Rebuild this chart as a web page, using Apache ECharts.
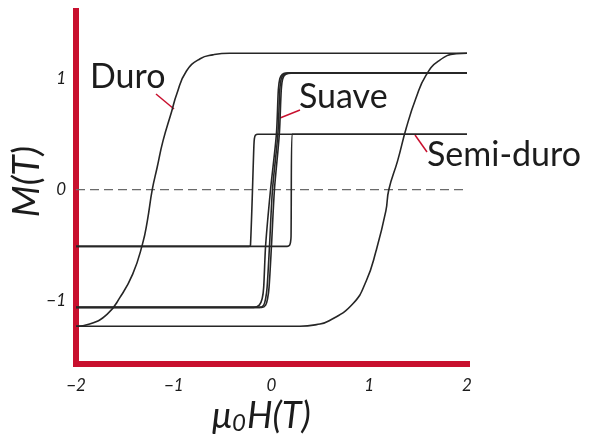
<!DOCTYPE html>
<html><head><meta charset="utf-8">
<script src="https://cdn.jsdelivr.net/npm/echarts@6/dist/echarts.min.js"></script>
<style>html,body{margin:0;padding:0;background:#fff}#c{width:591px;height:445px}</style>
</head><body><div id="c"></div>
<script>
// Tick labels
const xTicks = [-2, -1, 0, 1, 2];
const yTicks = [-1, 0, 1];

// Hard magnet ("Duro") loop, H (T) vs M (T)
const duroDown = [[2.0,1.23],[-0.43,1.23],[-0.6,1.215],[-0.73,1.18],[-0.87,1.07],[-0.97,0.86],[-1.02,0.71],[-1.11,0.44],[-1.17,0.20],[-1.22,0],[-1.27,-0.28],[-1.32,-0.49],[-1.42,-0.76],[-1.55,-0.97],[-1.68,-1.12],[-1.86,-1.21],[-2.0,-1.23]];
const duroUp = [[-2.0,-1.23],[0.29,-1.23],[0.46,-1.215],[0.59,-1.18],[0.83,-1.03],[0.97,-0.82],[1.07,-0.55],[1.17,-0.19],[1.20,0],[1.29,0.26],[1.38,0.56],[1.48,0.83],[1.58,1.03],[1.71,1.16],[1.89,1.225],[2.0,1.23]];

// Soft magnet ("Suave") loop
const suaveDown = [[2.0,1.05],[0.16,1.05],[0.11,1.04],[0.085,1.0],[0.07,0.9],[0.05,0.5],[-0.01,0.0],[-0.06,-0.5],[-0.08,-0.88],[-0.095,-0.98],[-0.125,-1.04],[-0.18,-1.06],[-2.0,-1.06]];
const suaveUp = [[-2.0,-1.06],[-0.1,-1.06],[-0.06,-1.04],[-0.04,-0.98],[-0.025,-0.88],[0.0,-0.5],[0.03,0.0],[0.08,0.5],[0.1,0.9],[0.115,1.0],[0.145,1.04],[0.2,1.05],[2.0,1.05]];
const suaveMid = [[-2.0,-1.06],[-0.12,-1.06],[-0.08,-1.04],[-0.06,-0.98],[-0.045,-0.88],[-0.02,-0.5],[0.01,0.0],[0.065,0.5],[0.085,0.9],[0.1,1.0],[0.13,1.04],[0.18,1.05],[2.0,1.05]];

// Semi-hard ("Semi-duro") loop
const semiDown = [[2.0,0.5],[-0.14,0.5],[-0.165,0.49],[-0.175,0.46],[-0.18,0.4],[-0.215,-0.5],[-0.23,-0.51],[-2.0,-0.51]];
const semiUp = [[-2.0,-0.51],[0.16,-0.51],[0.185,-0.5],[0.195,-0.47],[0.2,-0.42],[0.21,0.5],[2.0,0.5]];

// Zero reference line
const zeroLine = [[-2,0],[2,0]];

const RED = '#c8102e';
const INK = '#1c1c1c';
const CURVE = '#262626';
const fmt = v => String(v).replace('-', '\u2212');

const chart = echarts.init(document.getElementById('c'), null, {renderer:'canvas'});
function loop(data, smooth){
  return {type:'line', data, showSymbol:false, silent:true, smooth:smooth,
          lineStyle:{color:CURVE, width:1.6}, z:3};
}
chart.setOption({
  animation:false,
  grid:{left:76, right:124, top:11, bottom:81},
  xAxis:{type:'value', min:-2, max:2, interval:1,
    axisLine:{onZero:false, lineStyle:{color:RED, width:6, cap:'square'}},
    axisTick:{show:false}, splitLine:{show:false},
    axisLabel:{customValues:xTicks, formatter:fmt, margin:13, color:INK, fontSize:17, fontStyle:'italic', fontFamily:'Lato'}},
  yAxis:{type:'value', min:-1.57, max:1.61,
    axisLine:{show:true, onZero:false, lineStyle:{color:RED, width:6, cap:'square'}},
    axisTick:{show:false}, splitLine:{show:false},
    axisLabel:{customValues:yTicks, formatter:fmt, margin:10, color:INK, fontSize:17, fontStyle:'italic', fontFamily:'Lato'}},
  series:[
    {type:'line', data:zeroLine, showSymbol:false, silent:true, lineStyle:{color:'#6a6a6a', width:1.2, type:[9,5]}, z:2},
    loop(duroDown, 0.5), loop(duroUp, 0.5),
    loop(semiDown, 0.3), loop(semiUp, 0.3),
    loop(suaveDown, 0.3), loop(suaveMid, 0.3), loop(suaveUp, 0.3)
  ],
  graphic:[
    {type:'text', left:90, top:60, style:{text:'Duro', fill:INK, font:'34px Lato'}},
    {type:'text', left:299, top:80, style:{text:'Suave', fill:INK, font:'34px Lato'}},
    {type:'text', left:427, top:138, style:{text:'Semi-duro', fill:INK, font:'34px Lato'}},
    {type:'line', shape:{x1:156, y1:94, x2:174, y2:109}, style:{stroke:RED, lineWidth:1.5}},
    {type:'line', shape:{x1:280, y1:118, x2:300, y2:110}, style:{stroke:RED, lineWidth:1.5}},
    {type:'line', shape:{x1:415, y1:135, x2:427, y2:152}, style:{stroke:RED, lineWidth:1.5}},
    {type:'text', left:9, top:146, rotation:Math.PI/2, style:{text:'M(T)', fill:INK, font:'italic 37px Lato'}},
    {type:'text', left:212, top:398, style:{text:'{m|\u03bc}{s|0}{m|H(T)}', fill:INK,
      rich:{m:{font:'italic 36px Lato', fill:INK}, s:{font:'italic 24px Lato', fill:INK, verticalAlign:'bottom', padding:[14,1,0,0]}}}}
  ]
});
</script></body></html>
